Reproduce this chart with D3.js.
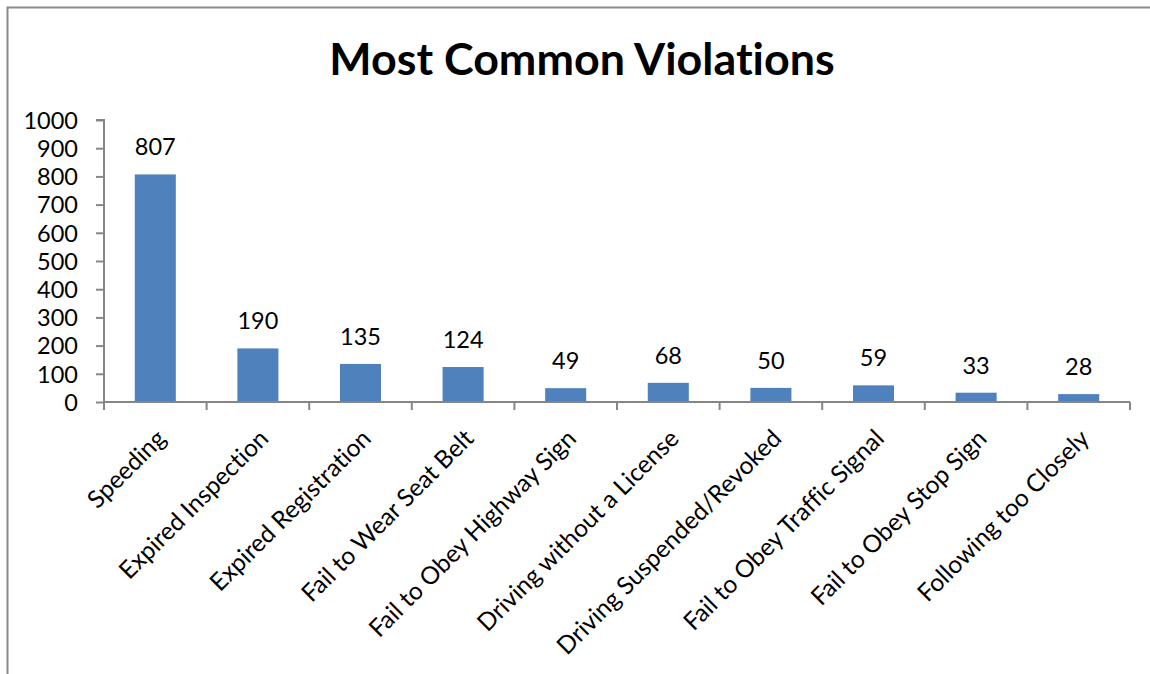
<!DOCTYPE html>
<html>
<head>
<meta charset="utf-8">
<script src="https://cdn.jsdelivr.net/npm/d3@7"></script>
<style>
  html, body { margin: 0; padding: 0; background: #fff; }
  svg { display: block; }
  text { font-family: Lato, "Open Sans", sans-serif; fill: #000; font-variant-ligatures: none; }
</style>
</head>
<body>
<svg id="chart" width="1150" height="674"></svg>
<script>
const categories = ["Speeding", "Expired Inspection", "Expired Registration", "Fail to Wear Seat Belt",
  "Fail to Obey Highway Sign", "Driving without a License", "Driving Suspended/Revoked",
  "Fail to Obey Traffic Signal", "Fail to Obey Stop Sign", "Following too Closely"];
const values = [807, 190, 135, 124, 49, 68, 50, 59, 33, 28];
const yTicks = [0, 100, 200, 300, 400, 500, 600, 700, 800, 900, 1000];
const title = "Most Common Violations";

const svg = d3.select("#chart");
const W = 1150, H = 674;
const plot = { left: 104, right: 1130, top: 120, bottom: 402 };
const axisColor = "#868686";

// outer border (extends past right/bottom edges like the reference)
svg.append("rect").attr("x", 7.5).attr("y", 7.5).attr("width", W + 20).attr("height", H + 20)
  .attr("fill", "none").attr("stroke", "#8a8a8a").attr("stroke-width", 2);

// title
const t = svg.append("text").attr("x", 582).attr("y", 75).attr("text-anchor", "middle")
  .style("font-weight", "bold").style("font-size", "42px").text(title);
const tl = t.node().getComputedTextLength();
t.style("font-size", (42 * 505 / tl).toFixed(1) + "px");

const x = d3.scaleBand().domain(categories).range([plot.left, plot.right]).paddingInner(0.6).paddingOuter(0.3);
const xTick = d3.scaleBand().domain(categories).range([plot.left, plot.right]);
const y = d3.scaleLinear().domain([0, 1000]).range([plot.bottom, plot.top]);

// y axis
const yAxis = d3.axisLeft(y).tickValues(yTicks).tickSize(8).tickPadding(18).tickFormat(d3.format("d"));
const gy = svg.append("g").attr("transform", `translate(${plot.left},0)`).call(yAxis);
gy.select(".domain").attr("stroke", axisColor).attr("stroke-width", 2).attr("d", `M-8,${plot.top}H0V${plot.bottom}`);
gy.selectAll(".tick line").attr("stroke", axisColor).attr("stroke-width", 2);
gy.selectAll(".tick text").style("font-size", "23.5px").style("font-family", "Lato, sans-serif").attr("fill", "#000").attr("dy", "0.35em");

// bars
svg.append("g").selectAll("rect").data(values).join("rect")
  .attr("x", (d, i) => x(categories[i]))
  .attr("y", d => y(d))
  .attr("width", x.bandwidth())
  .attr("height", d => y(0) - y(d))
  .attr("fill", "#4F81BD");

// value labels
svg.append("g").selectAll("text").data(values).join("text")
  .attr("x", (d, i) => x(categories[i]) + x.bandwidth() / 2)
  .attr("y", d => y(d) - 19)
  .attr("text-anchor", "middle")
  .style("font-size", "23.5px")
  .text(d => d);

// x axis
const gx = svg.append("g");
gx.append("line").attr("x1", plot.left).attr("x2", plot.right).attr("y1", plot.bottom).attr("y2", plot.bottom)
  .attr("stroke", axisColor).attr("stroke-width", 2);
const tickXs = categories.map(c => xTick(c)).concat([plot.right]);
gx.selectAll("line.tk").data(tickXs).join("line").attr("class", "tk")
  .attr("x1", d => d).attr("x2", d => d).attr("y1", plot.bottom).attr("y2", plot.bottom + 8)
  .attr("stroke", axisColor).attr("stroke-width", 2);

// rotated category labels
gx.selectAll("text").data(categories).join("text")
  .attr("transform", c => `translate(${xTick(c) + xTick.bandwidth() / 2 + 12},${plot.bottom + 38}) rotate(-45)`)
  .attr("text-anchor", "end")
  .style("font-size", "24.5px")
  .text(c => c);
</script>
</body>
</html>
